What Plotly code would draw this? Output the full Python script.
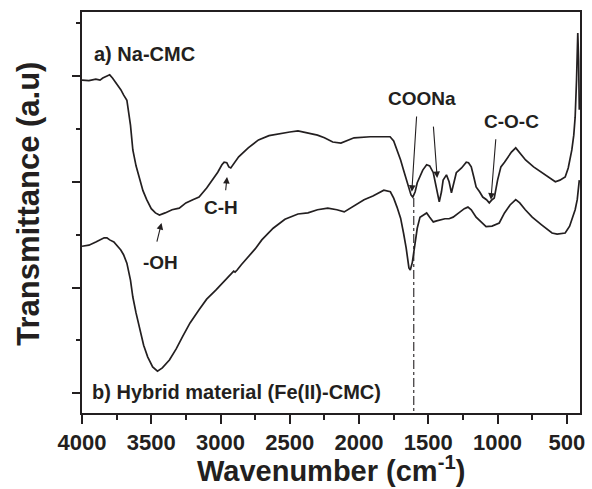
import plotly.graph_objects as go

# ---- data (wavenumber in cm^-1, transmittance in arbitrary units) ----
wn_a = [4000, 3950, 3900, 3870, 3850, 3820, 3800, 3780, 3760, 3740, 3720, 3700, 3676, 3650, 3633,
        3610, 3584, 3560, 3533, 3500, 3470, 3441, 3400, 3350, 3298, 3250, 3200, 3155, 3100, 3059,
        3020, 2990, 2974, 2955, 2940, 2926, 2910, 2890, 2869, 2800, 2726, 2650, 2559, 2500, 2441,
        2369, 2300, 2250, 2190, 2131, 2080, 2036, 1919, 1850, 1776, 1750, 1726, 1700, 1679, 1650,
        1625, 1612, 1595, 1580, 1562, 1540, 1512, 1490, 1464, 1440, 1421, 1405, 1393, 1369, 1350,
        1333, 1315, 1298, 1260, 1226, 1210, 1190, 1170, 1155, 1130, 1107, 1080, 1060, 1040, 1024,
        1000, 976, 950, 929, 900, 869, 840, 798, 740, 679, 630, 583, 550, 512, 490,
        464, 450, 440, 430, 425, 421, 415, 410]
t_a = [5.92, 5.91, 5.94, 5.92, 5.96, 6.00, 6.02, 5.96, 5.89, 5.83, 5.74, 5.64, 5.54, 5.07, 4.60,
       4.30, 4.03, 3.83, 3.66, 3.49, 3.41, 3.37, 3.41, 3.47, 3.50, 3.60, 3.66, 3.71, 3.88, 4.03,
       4.18, 4.32, 4.37, 4.36, 4.28, 4.26, 4.32, 4.41, 4.47, 4.64, 4.79, 4.87, 4.92, 4.94, 4.96,
       4.92, 4.88, 4.83, 4.75, 4.73, 4.79, 4.83, 4.85, 4.85, 4.85, 4.77, 4.60, 4.41, 4.22, 3.94,
       3.75, 3.71, 3.81, 3.98, 4.09, 4.22, 4.32, 4.30, 4.17, 3.84, 3.62, 3.81, 4.03, 4.13, 4.00,
       3.79, 3.98, 4.17, 4.26, 4.37, 4.36, 4.28, 4.07, 3.90, 3.81, 3.71, 3.66, 3.60, 3.66, 3.69,
       4.03, 4.28, 4.37, 4.45, 4.56, 4.64, 4.54, 4.41, 4.28, 4.17, 4.07, 4.00, 4.03, 4.09, 4.26,
       4.60, 4.88, 5.22, 5.92, 6.68, 6.81, 6.30, 5.36]

wn_b = [4000, 3950, 3900, 3869, 3840, 3820, 3800, 3770, 3748, 3720, 3700, 3676, 3650, 3633, 3610,
        3584, 3555, 3526, 3490, 3455, 3420, 3369, 3320, 3274, 3220, 3155, 3100, 3034, 2980, 2919,
        2905, 2895, 2880, 2850, 2798, 2750, 2702, 2620, 2535, 2480, 2441, 2369, 2300, 2226, 2160,
        2107, 2050, 1964, 1900, 1850, 1821, 1774, 1750, 1726, 1700, 1679, 1660, 1640, 1630, 1615,
        1600, 1580, 1560, 1540, 1512, 1490, 1464, 1440, 1417, 1380, 1350, 1321, 1280, 1240, 1214,
        1190, 1155, 1120, 1083, 1040, 988, 950, 910, 869, 840, 800, 750, 680, 607, 570,
        512, 480, 464, 440, 425, 417, 410]
t_b = [2.78, 2.80, 2.86, 2.90, 2.94, 2.94, 2.90, 2.86, 2.80, 2.71, 2.62, 2.46, 2.14, 1.82, 1.52,
       1.20, 0.91, 0.69, 0.50, 0.42, 0.48, 0.63, 0.84, 1.07, 1.33, 1.58, 1.78, 1.95, 2.10, 2.27,
       2.31, 2.29, 2.33, 2.43, 2.58, 2.73, 2.90, 3.12, 3.29, 3.35, 3.39, 3.41, 3.47, 3.50, 3.47,
       3.43, 3.52, 3.66, 3.73, 3.81, 3.84, 3.81, 3.69, 3.52, 3.31, 3.03, 2.75, 2.37, 2.33, 2.48,
       2.80, 3.12, 3.33, 3.37, 3.41, 3.33, 3.24, 3.26, 3.28, 3.30, 3.30, 3.33, 3.41, 3.49, 3.52,
       3.47, 3.33, 3.24, 3.15, 3.16, 3.22, 3.41, 3.56, 3.66, 3.60, 3.47, 3.33, 3.18, 3.03, 3.01,
       3.03, 3.16, 3.28, 3.47, 3.66, 3.84, 4.03]

# reference line at the COONa band
ref_wn = [1605, 1605]
ref_t = [3.69, -0.37]

x_ticks = [4000, 3500, 3000, 2500, 2000, 1500, 1000, 500]

# band labels: text, wavenumber, transmittance
labels = [("C-H", 2994, 3.52), ("-OH", 3430, 2.48), ("COONa", 1548, 5.58), ("C-O-C", 896, 5.13)]
# arrows: head (wn, t), tail (wn, t)
arrows = [((3426, 3.22), (3462, 2.84)),
          ((2953, 4.09), (2964, 3.81)),
          ((1619, 3.81), (1584, 5.26)),
          ((1436, 4.07), (1464, 5.07)),
          ((1048, 3.66), (1012, 4.83))]

FONT = "Liberation Sans, Arial, sans-serif"
INK = "#231f20"

fig = go.Figure()
fig.add_trace(go.Scatter(x=wn_a, y=t_a, mode="lines", line=dict(color=INK, width=1.7), showlegend=False))
fig.add_trace(go.Scatter(x=wn_b, y=t_b, mode="lines", line=dict(color=INK, width=1.7), showlegend=False))
fig.add_trace(go.Scatter(x=ref_wn, y=ref_t, mode="lines", line=dict(color=INK, width=1.1, dash="dashdot"), showlegend=False))

ann = []
ann.append(dict(x=3926, y=6.41, xref="x", yref="y", text="a) Na-CMC", showarrow=False,
                xanchor="left", yanchor="middle", font=dict(family=FONT, size=20, color=INK, weight="bold")))
ann.append(dict(x=3941, y=0.02, xref="x", yref="y", text="b) Hybrid material (Fe(II)-CMC)", showarrow=False,
                xanchor="left", yanchor="middle", font=dict(family=FONT, size=20, color=INK, weight="bold")))
for txt, xx, yy in labels:
    ann.append(dict(x=xx, y=yy, xref="x", yref="y", text=txt, showarrow=False,
                    xanchor="center", yanchor="middle", font=dict(family=FONT, size=19, color=INK, weight="bold")))
for (hx, hy), (tx, ty) in arrows:
    ann.append(dict(x=hx, y=hy, ax=tx, ay=ty, xref="x", yref="y", axref="x", ayref="y", text="",
                    showarrow=True, arrowhead=2, arrowsize=1.2, arrowwidth=1.1, arrowcolor=INK))
ann.append(dict(x=-0.109, y=0.521, xref="paper", yref="paper", text="Transmittance (a.u)", textangle=-90,
                showarrow=False, xanchor="center", yanchor="middle",
                font=dict(family=FONT, size=31, color=INK, weight="bold")))
ann.append(dict(x=0.5, y=-0.1895, xref="paper", yref="paper", text="Wavenumber (cm<sup>-1</sup>)",
                showarrow=False, xanchor="center", yanchor="bottom",
                font=dict(family=FONT, size=29, color=INK, weight="bold")))

fig.update_layout(
    width=592, height=489,
    margin=dict(l=82, r=7, t=12, b=76),
    paper_bgcolor="white", plot_bgcolor="white",
    annotations=ann,
    xaxis=dict(range=[4000, 405], tickvals=x_ticks, ticks="outside", ticklen=9, tickwidth=1.5,
               tickcolor=INK, showline=True, linecolor=INK, linewidth=1.5, mirror=True,
               showgrid=False, zeroline=False,
               tickfont=dict(family=FONT, size=22, color=INK, weight="bold"),
               minor=dict(dtick=250, tick0=500, ticks="outside", ticklen=5, tickwidth=1.5, tickcolor=INK, showgrid=False)),
    yaxis=dict(range=[-0.372, 7.208], dtick=2, tick0=0, ticks="outside", ticklen=8, tickwidth=1.5,
               tickcolor=INK, showline=True, linecolor=INK, linewidth=1.5, mirror=True,
               showgrid=False, zeroline=False, showticklabels=False,
               minor=dict(dtick=1, tick0=0, ticks="outside", ticklen=4, tickwidth=1.5, tickcolor=INK, showgrid=False)),
)

fig.write_html("out.html")
